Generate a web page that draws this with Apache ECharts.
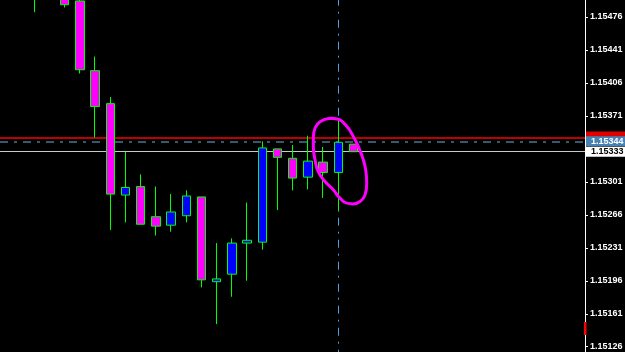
<!DOCTYPE html>
<html>
<head>
<meta charset="utf-8">
<script src="https://cdn.jsdelivr.net/npm/echarts@6/dist/echarts.min.js"></script>
<style>
html,body{margin:0;padding:0;background:#000;}
#chart{width:625px;height:352px;}
</style>
</head>
<body>
<div id="chart"></div>
<script>
// Bar index (position along the time axis)
var barIndex = [0,1,2,3,4,5,6,7,8,9,10,11,12,13,14,15,16,17,18,19,20,21];
var openPrices  = [1.15526,1.15505,1.15505,1.15493,1.15419,1.15384,1.15287,1.15296,1.15264,1.15255,1.15265,1.15285,1.15195,1.15203,1.15236,1.15237,1.15336,1.15326,1.15306,1.15322,1.15311,1.15341];
var closePrices = [1.15499,1.15525,1.15489,1.15420,1.15381,1.15288,1.15295,1.15256,1.15254,1.15269,1.15286,1.15197,1.15198,1.15236,1.15239,1.15337,1.15327,1.15305,1.15323,1.15311,1.15343,1.15333];
var lowPrices   = [1.15481,1.15497,1.15486,1.15416,1.15348,1.15250,1.15258,1.15256,1.15244,1.15248,1.15258,1.15189,1.15150,1.15179,1.15196,1.15229,1.15271,1.15292,1.15293,1.15284,1.15271,1.15333];
var highPrices  = [1.15535,1.15540,1.15510,1.15497,1.15434,1.15391,1.15333,1.15309,1.15296,1.15288,1.15292,1.15285,1.15236,1.15241,1.15279,1.15344,1.15336,1.15340,1.15350,1.15338,1.15366,1.15341];

// Price axis
var priceMin = 1.15091, priceMax = 1.15511, priceStep = 0.00035;
var hiddenTick = 1.15336;

// Horizontal price lines
var redLine = 1.15348;
var askLine = 1.15344;
var bidLine = 1.15333;
// Vertical marker bar
var markerBar = 20;

// Hand-drawn ellipse annotation (bar index, price)
var ellipseIdx   = [19.45,18.80,18.47,18.36,18.36,18.47,18.68,19.13,19.67,20.11,20.55,20.99,21.43,21.76,21.87,21.80,21.65,21.32,20.99,20.66,20.33,20.00,19.45];
var ellipsePrice = [1.153685,1.153649,1.153579,1.153490,1.153384,1.153243,1.153119,1.153013,1.152925,1.152837,1.152784,1.152776,1.152801,1.152872,1.152996,1.153137,1.153243,1.153384,1.153490,1.153579,1.153639,1.153675,1.153685];

var candles = barIndex.map(function(x,i){return [x, openPrices[i], closePrices[i], lowPrices[i], highPrices[i]];});
var ellipse = ellipseIdx.map(function(x,i){return [x, ellipsePrice[i]];});

var FONT = 'Liberation Sans';
function priceLabel(color, bg, lh){
  return {show:true, position:'end', distance:1,
    formatter:function(p){return Number(p.value).toFixed(5);},
    color:color, backgroundColor:bg, fontFamily:FONT, fontSize:9, fontWeight:'bold', lineHeight:lh, padding:[0,5,0,5]};
}
var chart = echarts.init(document.getElementById('chart'), null, {renderer:'canvas'});
chart.setOption({
  backgroundColor:'#000000',
  animation:false,
  grid:{left:0, right:40, top:-16, bottom:-27.7, containLabel:false, outerBoundsMode:'none'},
  xAxis:{type:'value', min:-2.257, max:36.23, show:false},
  yAxis:{
    type:'value', position:'right', min:priceMin, max:priceMax, interval:priceStep,
    splitLine:{show:false},
    axisLine:{show:true, onZero:false, lineStyle:{color:'#ffffff', width:1}},
    axisTick:{show:true, inside:false, length:3, lineStyle:{color:'#ffffff'}},
    axisLabel:{color:'#ffffff', fontFamily:FONT, fontSize:9, fontWeight:'bold', margin:5,
      formatter:function(v){ if (Math.abs(v-hiddenTick)<0.000001) return ''; return v.toFixed(5);} }
  },
  series:[
    {
      type:'line', data:[], clip:false, silent:true,
      markLine:{
        silent:true, z:1, symbol:['none','none'], animation:false, precision:5,
        data:[
          {yAxis:redLine, lineStyle:{color:'#c00000', width:2, type:'solid'}, label:priceLabel('#e00000','#e00000',12)},
          {yAxis:askLine, lineStyle:{color:'#4a7696', width:1.5, type:[8,6,3,6]}, label:priceLabel('#ffffff','#4682b4',10)},
          {yAxis:bidLine, lineStyle:{color:'#c4cad2', width:1, type:'solid'}, label:priceLabel('#000000','#ffffff',10)},
          {xAxis:markerBar, lineStyle:{color:'#4a9fe6', width:1, type:[8,6,2,6]}, label:{show:false}}
        ]
      }
    },
    {
      type:'candlestick', data:candles, z:2, clip:false, silent:true, barWidth:9,
      itemStyle:{color:'#0000ff', color0:'#ff00ff', borderColor:'#00ff00', borderColor0:'#00ff00', borderWidth:1}
    },
    {
      type:'line', data:ellipse, z:3, clip:false, silent:true, smooth:0.5, symbol:'none',
      lineStyle:{color:'#ff00ff', width:3}
    }
  ],
  graphic:[
    {type:'rect', z:100, shape:{x:584, y:322, width:2.5, height:13}, style:{fill:'#ff0000'}}
  ]
});
</script>
</body>
</html>
